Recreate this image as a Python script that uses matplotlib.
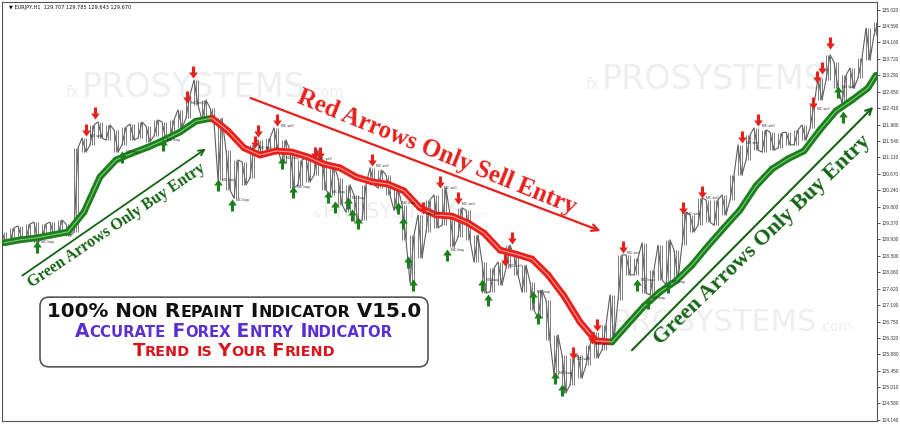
import re
import numpy as np
import matplotlib
matplotlib.use('Agg')
import matplotlib.pyplot as plt
from matplotlib.path import Path
from matplotlib.patches import FancyBboxPatch
from matplotlib.collections import LineCollection
from matplotlib.offsetbox import TextArea, HPacker, AnnotationBbox
from matplotlib.transforms import IdentityTransform

# EURJPY H1 - one sampled bar every 8 chart pixels (high / low)
bar_high = [129.13, 129.24, 129.29, 129.34, 129.39, 129.34, 129.39, 129.45, 129.34, 131.36,
            131.62, 131.97, 132.05, 131.97, 131.84, 131.91, 131.99, 132.05, 131.94, 132.10,
            132.05, 132.10, 132.37, 132.76, 133.16, 132.63, 132.42, 132.15, 131.30, 131.04,
            130.99, 131.44, 131.57, 131.62, 131.89, 131.57, 131.30, 131.04, 131.09, 131.30,
            131.04, 130.91, 130.56, 130.38, 130.11, 130.38, 130.83, 130.77, 130.64, 130.30,
            129.85, 129.05, 129.58, 129.98, 130.11, 130.30, 129.58, 129.77, 129.71, 129.05,
            128.33, 128.17, 128.33, 128.78, 128.52, 128.25, 127.80, 127.59, 127.32, 126.40,
            125.86, 125.79, 125.86, 126.13, 126.47, 126.66, 127.46, 128.52, 128.52, 128.44,
            128.84, 128.12, 128.78, 128.92, 128.65, 129.66, 129.58, 130.03, 129.98, 129.98,
            130.11, 130.64, 131.44, 131.70, 131.89, 131.84, 131.78, 131.76, 131.78, 131.84,
            131.97, 132.50, 133.22, 133.83, 133.64, 133.29, 133.48, 133.75, 134.54, 134.70]
bar_low = [128.78, 128.86, 128.92, 128.97, 128.84, 128.97, 129.02, 129.05, 129.02, 129.13,
           131.25, 131.44, 131.62, 131.57, 131.25, 131.44, 131.57, 131.62, 131.52, 131.68,
           131.57, 131.62, 131.89, 132.15, 132.50, 132.10, 132.05, 130.51, 130.24, 130.03,
           130.38, 130.56, 131.12, 131.17, 131.30, 130.96, 130.30, 130.38, 130.46, 130.64,
           130.24, 130.11, 129.85, 129.66, 129.39, 129.45, 130.38, 130.30, 130.11, 129.71,
           128.92, 127.78, 128.44, 129.13, 129.24, 129.31, 128.73, 129.00, 128.92, 128.33,
           127.51, 127.54, 127.72, 128.17, 127.99, 127.54, 127.06, 126.85, 126.26, 125.33,
           124.86, 125.07, 125.25, 125.60, 125.79, 126.00, 126.26, 127.32, 127.99, 127.99,
           127.51, 127.46, 127.86, 127.72, 127.86, 128.78, 129.13, 129.31, 129.39, 129.31,
           129.58, 129.98, 130.64, 131.04, 131.30, 131.25, 131.30, 131.36, 131.44, 131.44,
           131.57, 131.89, 132.63, 133.16, 132.95, 132.55, 132.95, 133.22, 133.69, 134.36]

# trend indicator (sampled every 2 bars)
ma_bar = [0, 2, 4, 6, 8, 10, 12, 14, 16, 18, 20, 22, 24, 26, 28, 30, 32, 34, 36, 38,
          40, 42, 44, 46, 48, 50, 52, 54, 56, 58, 60, 62, 64, 66, 68, 70, 72, 74, 76, 78,
          80, 82, 84, 86, 88, 90, 92, 94, 96, 98, 100, 102, 104, 106, 108, 109]
ma_price = [128.84, 128.92, 128.97, 129.05, 129.13, 129.66, 130.59, 131.04, 131.22, 131.38,
            131.57, 131.78, 132.07, 132.15, 131.81, 131.36, 131.17, 131.28, 131.25, 131.12,
            130.93, 130.83, 130.59, 130.46, 130.40, 130.22, 129.77, 129.58, 129.55, 129.37,
            129.10, 128.65, 128.54, 128.41, 127.99, 127.43, 126.74, 126.24, 126.21, 126.69,
            127.16, 127.54, 127.83, 128.25, 128.76, 129.24, 129.71, 130.35, 130.80, 131.07,
            131.28, 131.84, 132.34, 132.63, 132.95, 133.29]
ma_trend = [-1] + [1] * 13 + [-1] * 25 + [1] * 17

# signal arrows
buy_bar = [4.1, 14.75, 19.9, 26.75, 28.5, 34.75, 36.1, 40.5, 41.4, 43.0, 43.5, 44.25, 49.25,
           49.9, 50.5, 51.1, 55.4, 59.75, 60.5, 66.1, 66.75, 68.9, 69.75, 79.1, 80.5, 83.0,
           104.25, 104.9]
buy_price = [128.73, 131.12, 131.44, 130.38, 129.85, 130.96, 130.19, 130.06, 129.79, 129.90,
             129.58, 129.37, 129.77, 129.37, 128.33, 127.72, 128.52, 127.72, 127.32, 127.40,
             126.85, 125.25, 124.94, 127.72, 127.24, 127.67, 132.84, 132.18]
sell_bar = [10.25, 11.4, 22.9, 23.6, 31.75, 31.4, 34.1, 38.9, 39.5, 46.0, 52.4, 54.5, 56.75,
            63.5, 62.6, 71.1, 73.5, 74.1, 77.4, 84.9, 87.25, 92.25, 94.25, 101.1, 101.6,
            102.25, 103.25]
sell_price = [131.84, 132.29, 132.71, 133.37, 131.81, 131.52, 132.10, 131.22, 131.22, 131.04,
              129.77, 130.46, 130.03, 128.97, 128.39, 125.92, 126.32, 126.66, 128.73, 129.77,
              130.19, 131.65, 132.10, 132.55, 133.24, 133.48, 134.14]

price_ticks = [135.020, 134.590, 134.160, 133.720, 133.290, 132.850, 132.410, 131.980,
               131.540, 131.110, 130.670, 130.240, 129.800, 129.370, 128.930, 128.500,
               128.060, 127.620, 127.190, 126.750, 126.320, 125.880, 125.450, 125.010,
               124.580, 124.140]

header = "EURJPY,H1  129.707 129.785 129.643 129.670"

RED = '#e8201c'
GREEN = '#1b7f1b'
DKGREEN = '#146414'

fig = plt.figure(figsize=(9, 4.26), dpi=100)
ax = fig.add_axes([2 / 900, 5 / 426, 875 / 900, 419 / 426])
ax.set_xlim(-0.25, 109.125)
ax.set_ylim(124.113, 135.232)

# watermarks
def watermark(x, y, size):
    wm = '#eeeeee'
    parts = [TextArea('fx', textprops=dict(size=size * 0.45, color=wm)),
             TextArea('PROSYSTEMS', textprops=dict(size=size, color=wm)),
             TextArea('.com', textprops=dict(size=size * 0.45, color=wm))]
    box = HPacker(children=parts, align='baseline', pad=0, sep=1)
    ab = AnnotationBbox(box, (x, y), xycoords='axes fraction', frameon=False,
                        box_alignment=(0.5, 0.5), zorder=0)
    ax.add_artist(ab)

watermark(0.232, 0.795, 24)
watermark(0.826, 0.814, 24)
watermark(0.455, 0.499, 15)
watermark(0.826, 0.236, 22)

# price bars
n = len(bar_high)
xs, ys = [], []
for i in range(n):
    if i % 2 == 0:
        pair = (bar_high[i], bar_low[i])
    else:
        pair = (bar_low[i], bar_high[i])
    xs += [i - 0.25, i + 0.25]
    ys += list(pair)
ax.plot(xs, ys, color='#5e5e5e', lw=0.8, zorder=2)
for off in (-0.25, 0, 0.25):
    ax.vlines(np.arange(n) + off, bar_low, bar_high, color='#6a6a6a', lw=0.6, zorder=2)

# trend line
pts = np.column_stack([ma_bar, ma_price])
segs = [pts[i:i + 2] for i in range(len(pts) - 1)]
cols = [GREEN if t > 0 else RED for t in ma_trend[1:]]
light = ['#7fc97f' if t > 0 else '#ff9c96' for t in ma_trend[1:]]
ax.add_collection(LineCollection(segs, colors=cols, linewidths=4.8, capstyle='round',
                                 joinstyle='round', zorder=3))
ax.add_collection(LineCollection(segs, colors=light, linewidths=0.8, zorder=3))

# arrows
up = Path([(-0.18, -0.7), (0.18, -0.7), (0.18, 0.0), (0.5, 0.0), (0, 0.7),
           (-0.5, 0.0), (-0.18, 0.0), (-0.18, -0.7)], closed=True)
down = Path([(-0.18, 0.7), (0.18, 0.7), (0.18, 0.0), (0.5, 0.0), (0, -0.7),
             (-0.5, 0.0), (-0.18, 0.0), (-0.18, 0.7)], closed=True)
ax.scatter(buy_bar, buy_price, marker=up, s=75, color=GREEN, zorder=4, linewidths=0)
ax.scatter(sell_bar, sell_price, marker=down, s=75, color=RED, zorder=4, linewidths=0)

last = -10
for b, p in sorted(zip(buy_bar, buy_price)):
    if b - last > 1.2:
        ax.annotate('NC buy', (b, p), xytext=(3, 3), textcoords='offset points',
                    fontsize=2.6, color='#222222', zorder=4)
    last = b
last = -10
for b, p in sorted(zip(sell_bar, sell_price)):
    if b - last > 1.2:
        ax.annotate('NC sell', (b, p), xytext=(3, -5), textcoords='offset points',
                    fontsize=2.6, color='#222222', zorder=4)
    last = b

# direction notes
serif = ['Liberation Serif', 'DejaVu Serif']
ax.annotate('', xy=(74.9, 129.13), xytext=(30.5, 132.71),
            arrowprops=dict(arrowstyle='->', color=RED, lw=1.6, mutation_scale=12), zorder=5)
ax.text(54.1, 131.25, 'Red Arrows Only Sell Entry', color=RED, family=serif,
        weight='bold', size=17.8, rotation=-22, rotation_mode='anchor',
        ha='center', va='center', zorder=5)
ax.annotate('', xy=(25.5, 131.38), xytext=(2, 127.93),
            arrowprops=dict(arrowstyle='->', color=DKGREEN, lw=1.3, mutation_scale=10), zorder=5)
ax.text(14.1, 129.29, 'Green Arrows Only Buy Entry', color=DKGREEN, family=serif,
        weight='bold', size=11.5, rotation=34, rotation_mode='anchor',
        ha='center', va='center', zorder=5)
ax.annotate('', xy=(108.9, 132.50), xytext=(78.25, 125.94),
            arrowprops=dict(arrowstyle='->', color=DKGREEN, lw=1.5, mutation_scale=11), zorder=5)
ax.text(94.75, 128.92, 'Green Arrows Only Buy Entry', color=DKGREEN, family=serif,
        weight='bold', size=16, rotation=44, rotation_mode='anchor',
        ha='center', va='center', zorder=5)

# info box
x0, y0 = ax.transData.transform((4.5, 125.55))
x1, y1 = ax.transData.transform((53.0, 127.40))
box = FancyBboxPatch((x0, y0), x1 - x0, y1 - y0, boxstyle='round,pad=0,rounding_size=9',
                     transform=IdentityTransform(), facecolor='white',
                     edgecolor='#555555', lw=1.2, zorder=6)
ax.add_artist(box)

def small_caps(s, big, color):
    parts = []
    for run in re.findall(r'[a-z]+|[^a-z]+', s):
        if run.islower():
            parts.append(TextArea(run.upper(), textprops=dict(size=big * 0.8, color=color,
                                                               weight='bold')))
        else:
            parts.append(TextArea(run, textprops=dict(size=big, color=color, weight='bold')))
    return HPacker(children=parts, align='baseline', pad=0, sep=0)

lines = [('100% Non Repaint Indicator V15.0', 14.3, '#111111', 127.03),
         ('Accurate Forex Entry Indicator', 13.4, '#5a2fd4', 126.50),
         ('Trend is Your Friend', 13.0, '#d8141c', 125.97)]
for txt, sz, col, p in lines:
    ab = AnnotationBbox(small_caps(txt, sz, col), (28.75, p), xycoords='data',
                        frameon=False, box_alignment=(0.5, 0.5), zorder=7)
    ax.add_artist(ab)

# axes styling
ax.yaxis.tick_right()
ax.set_yticks(price_ticks)
ax.set_yticklabels(['%.3f' % t for t in price_ticks], family='Liberation Sans')
ax.tick_params(axis='y', labelsize=3.4, length=2, pad=1, colors='#333333', width=0.6)
ax.set_xticks([])
for s in ax.spines.values():
    s.set_color('#555555')
    s.set_linewidth(0.8)
ax.text(0.008, 0.993, '\u25bc ' + header, transform=ax.transAxes, fontsize=3.6,
        va='top', ha='left', color='#111111')

fig.savefig('out.png', dpi=100, facecolor='white')
